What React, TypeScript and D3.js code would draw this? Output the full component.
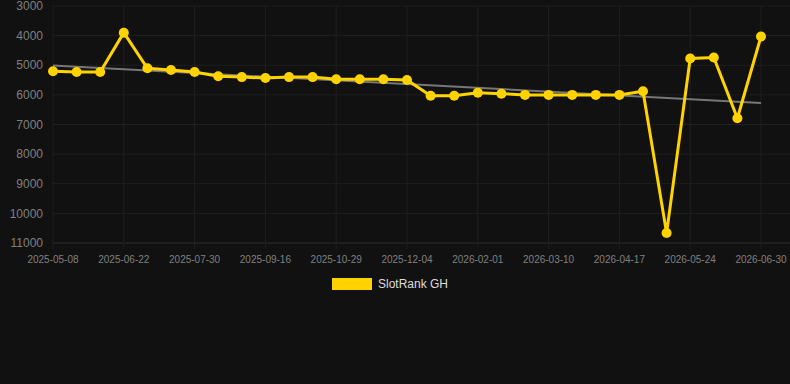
import { useEffect, useRef } from 'react';
import * as d3 from 'd3';

// ranks, one per point (lower rank = higher on chart)
const rankValues: number[] = [
  5200, 5230, 5230, 3900, 5100, 5160, 5230, 5370, 5400, 5430, 5400,
  5400, 5470, 5470, 5470, 5500, 6030, 6030, 5930, 5960, 6000, 6000,
  6000, 6000, 6000, 5880, 10660, 4770, 4740, 6790, 4030,
];

// labels shown under every third point
const tickLabels: string[] = [
  '2025-05-08', '2025-06-22', '2025-07-30', '2025-09-16', '2025-10-29',
  '2025-12-04', '2026-02-01', '2026-03-10', '2026-04-17', '2026-05-24',
  '2026-06-30',
];

const yTicks: number[] = [3000, 4000, 5000, 6000, 7000, 8000, 9000, 10000, 11000];

const seriesName = 'SlotRank GH';

const SlotRankChart = () => {
  const svgRef = useRef<SVGSVGElement>(null);

  useEffect(() => {
    if (!svgRef.current) return;
    const root = d3.select(svgRef.current);
    root.selectAll('*').remove();

    const W = 790;
    const H = 384;
    const left = 53;
    const right = 761;
    const top = 6;
    const bottom = 243;

    root.attr('width', W).attr('height', H);
    root.append('rect').attr('width', W).attr('height', H).attr('fill', '#111111');

    const idx = rankValues.map((_, i) => i);
    const x = d3.scalePoint<number>().domain(idx).range([left, right]);
    const y = d3.scaleLinear().domain([3000, 11000]).range([top, bottom]);

    const font = '"Liberation Sans", Arial, sans-serif';

    // horizontal grid
    root
      .selectAll('.hgrid')
      .data(yTicks)
      .enter()
      .append('line')
      .attr('x1', left)
      .attr('x2', right + 29)
      .attr('y1', (d) => y(d))
      .attr('y2', (d) => y(d))
      .attr('stroke', (d) => (d === 11000 ? '#2e2e2e' : '#1f1f1f'))
      .attr('stroke-width', 1);

    // vertical grid at labelled points
    const tickIdx = tickLabels.map((_, i) => i * 3);
    root
      .selectAll('.vgrid')
      .data(tickIdx)
      .enter()
      .append('line')
      .attr('x1', (d) => x(d)!)
      .attr('x2', (d) => x(d)!)
      .attr('y1', top)
      .attr('y2', bottom + 6)
      .attr('stroke', '#1f1f1f')
      .attr('stroke-width', 1);

    // y labels
    root
      .selectAll('.ylab')
      .data(yTicks)
      .enter()
      .append('text')
      .attr('x', 43)
      .attr('y', (d) => y(d))
      .attr('dy', '0.35em')
      .attr('text-anchor', 'end')
      .attr('font-family', font)
      .attr('font-size', 12)
      .attr('fill', '#808080')
      .text((d) => d);

    // x labels
    root
      .selectAll('.xlab')
      .data(tickIdx)
      .enter()
      .append('text')
      .attr('x', (d) => x(d)!)
      .attr('y', 259)
      .attr('dy', '0.35em')
      .attr('text-anchor', 'middle')
      .attr('font-family', font)
      .attr('font-size', 10)
      .attr('fill', '#808080')
      .text((d, i) => tickLabels[i]);

    // linear trend (least squares)
    const n = rankValues.length;
    const mx = d3.mean(idx)!;
    const my = d3.mean(rankValues)!;
    const slope =
      d3.sum(idx, (i) => (i - mx) * (rankValues[i] - my)) /
      d3.sum(idx, (i) => (i - mx) * (i - mx));
    const icpt = my - slope * mx;
    root
      .append('line')
      .attr('x1', x(0)!)
      .attr('x2', x(n - 1)!)
      .attr('y1', y(icpt))
      .attr('y2', y(icpt + slope * (n - 1)))
      .attr('stroke', '#777777')
      .attr('stroke-width', 2);

    const color = '#FFD300';
    const line = d3
      .line<number>()
      .x((_, i) => x(i)!)
      .y((d) => y(d));

    root
      .append('path')
      .datum(rankValues)
      .attr('d', line)
      .attr('fill', 'none')
      .attr('stroke', color)
      .attr('stroke-width', 3)
      .attr('stroke-linejoin', 'miter');

    root
      .selectAll('.pt')
      .data(rankValues)
      .enter()
      .append('circle')
      .attr('cx', (_, i) => x(i)!)
      .attr('cy', (d) => y(d))
      .attr('r', 5)
      .attr('fill', color);

    // legend
    root
      .append('rect')
      .attr('x', 332)
      .attr('y', 278)
      .attr('width', 40)
      .attr('height', 12)
      .attr('fill', color);
    root
      .append('text')
      .attr('x', 378)
      .attr('y', 284)
      .attr('dy', '0.35em')
      .attr('font-family', font)
      .attr('font-size', 12)
      .attr('fill', '#dddddd')
      .text(seriesName);
  }, []);

  return <svg ref={svgRef} style={{ display: 'block' }}></svg>;
};

export default function App() {
  return (
    <div style={{ position: 'fixed', left: 0, top: 0, width: 790, height: 384, background: '#111111' }}>
      <SlotRankChart />
    </div>
  );
}
